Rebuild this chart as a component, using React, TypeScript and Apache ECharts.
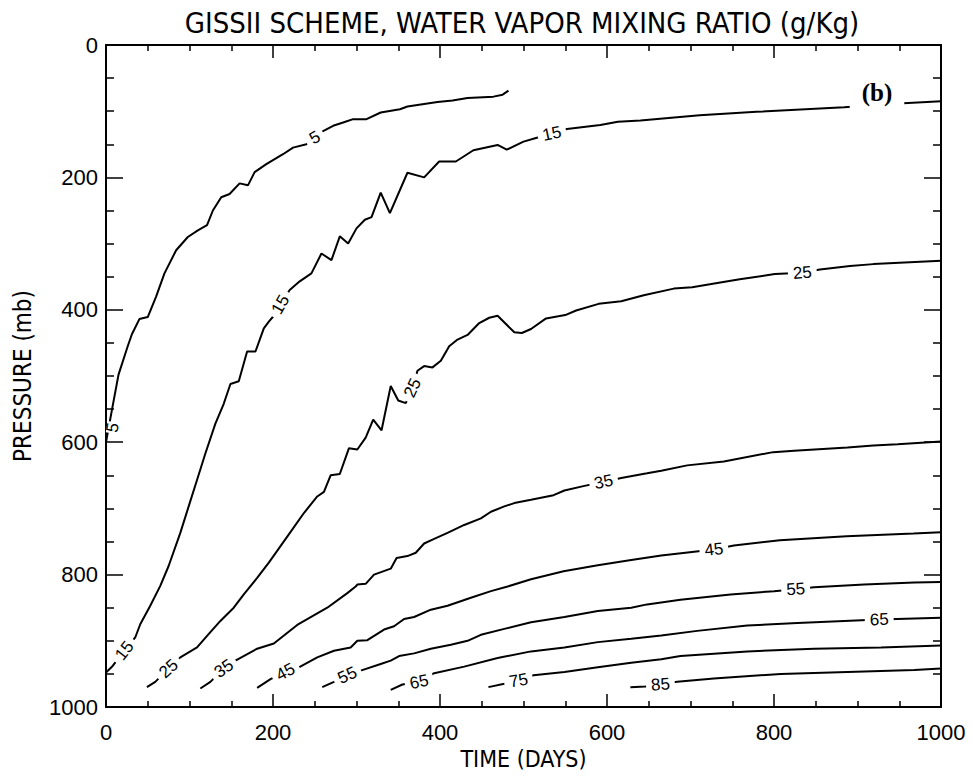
import React, { useEffect, useRef } from "react";
import * as echarts from "echarts";

// ---- Contour curves: [time (days), pressure (mb)] ----
const curve5: [number, number][] = [
  [0, 600], [7, 552], [15, 498], [26, 455], [31, 437], [40, 414], [50, 411], [60, 380],
  [70, 345], [84, 310], [98, 290], [110, 280], [121, 272], [128, 250], [138, 230], [148, 225],
  [160, 209], [170, 212], [178, 192], [192, 180], [212, 165], [224, 155], [240, 150], [250, 140],
  [260, 130], [272, 122], [284, 117], [296, 112], [312, 112], [329, 102], [352, 97], [361, 93],
  [397, 86], [415, 84], [433, 80], [464, 78], [475, 75], [482, 69],
];
const curve15: [number, number][] = [
  [0, 948], [8, 938], [22, 915], [35, 895], [41, 875], [53, 847], [65, 817], [75, 787],
  [89, 737], [99, 697], [109, 657], [119, 617], [131, 572], [141, 542], [149, 512], [159, 508],
  [169, 463], [179, 463], [189, 428], [195, 418], [201, 409], [209, 392], [220, 370], [232, 357],
  [246, 345], [258, 315], [270, 325], [280, 289], [290, 300], [300, 277], [310, 264], [318, 260],
  [329, 223], [340, 254], [361, 193], [381, 200], [399, 176], [419, 176], [440, 159], [469, 151],
  [480, 158], [500, 146], [516, 140], [534, 134], [552, 127], [592, 121], [613, 116], [640, 114],
  [711, 106], [779, 101], [884, 94], [955, 88], [1000, 85],
];
const curve25: [number, number][] = [
  [49, 970], [59, 962], [75, 942], [89, 925], [109, 910], [125, 887], [137, 870], [153, 850],
  [165, 830], [181, 805], [195, 782], [209, 757], [223, 732], [237, 707], [253, 682], [261, 675],
  [269, 650], [280, 648], [291, 609], [301, 611], [311, 593], [320, 566], [330, 582], [341, 515],
  [350, 537], [359, 541], [367, 518], [373, 492], [381, 485], [391, 487], [401, 477], [411, 455],
  [421, 445], [433, 438], [447, 420], [459, 412], [469, 409], [489, 434], [498, 435], [509, 429],
  [527, 413], [550, 408], [563, 401], [590, 391], [617, 387], [644, 378], [680, 368], [702, 366],
  [725, 361], [759, 354], [801, 346], [834, 344], [855, 339], [891, 334], [919, 331], [1000, 326],
];
const curve35: [number, number][] = [
  [113, 972], [125, 962], [141, 942], [155, 930], [181, 912], [201, 904], [229, 876], [265, 850],
  [289, 828], [299, 818], [301, 815], [311, 814], [321, 800], [341, 791], [348, 775], [361, 772],
  [371, 767], [381, 753], [393, 746], [409, 737], [429, 725], [449, 715], [461, 705], [477, 697],
  [489, 692], [509, 687], [536, 680], [549, 673], [573, 666], [596, 660], [617, 654], [648, 647],
  [665, 643], [696, 635], [740, 629], [799, 615], [824, 613], [888, 608], [919, 605], [948, 603],
  [1000, 599],
];
const curve45: [number, number][] = [
  [181, 971], [197, 958], [215, 947], [231, 940], [253, 925], [273, 915], [293, 910], [301, 900],
  [313, 899], [333, 883], [345, 878], [357, 867], [369, 864], [389, 853], [409, 847], [437, 835],
  [461, 825], [481, 818], [509, 807], [548, 795], [589, 786], [629, 778], [665, 771], [728, 762],
  [752, 756], [807, 748], [887, 742], [967, 738], [1000, 736],
];
const curve55: [number, number][] = [
  [259, 970], [273, 962], [289, 952], [305, 945], [329, 935], [341, 930], [351, 923], [369, 919],
  [389, 912], [413, 906], [433, 900], [449, 891], [477, 882], [509, 872], [549, 864], [589, 855],
  [629, 850], [648, 845], [688, 838], [748, 830], [800, 825], [826, 822], [848, 819], [908, 815],
  [968, 812], [1000, 811],
];
const curve65: [number, number][] = [
  [341, 974], [355, 966], [375, 962], [393, 949], [429, 939], [469, 926], [509, 916], [549, 910],
  [589, 902], [629, 897], [665, 892], [708, 885], [768, 877], [828, 873], [926, 868], [1000, 865],
];
const curve75: [number, number][] = [
  [458, 970], [477, 965], [494, 960], [512, 952], [549, 947], [589, 940], [629, 933], [665, 928],
  [688, 923], [768, 916], [848, 912], [928, 910], [1000, 907],
];
const curve85: [number, number][] = [
  [628, 970], [646, 969], [664, 966], [684, 962], [728, 957], [808, 950], [888, 947], [968, 944],
  [1000, 942],
];

const curves = [curve5, curve15, curve25, curve35, curve45, curve55, curve65, curve75, curve85];
const curveNames = ["5", "15", "25", "35", "45", "55", "65", "75", "85"];

// ---- Contour labels: text, day, pressure, angle (degrees, counter-clockwise) ----
const labelTexts = ["5", "5", "15", "15", "15", "25", "25", "25", "35", "35", "45", "45", "55", "55", "65", "65", "75", "85"];
const labelDays = [8, 250, 22, 209, 534, 75, 367, 834, 141, 596, 215, 728, 289, 826, 375, 926, 494, 664];
const labelPressures = [578, 140, 915, 392, 134, 942, 518, 344, 942, 660, 947, 762, 952, 822, 962, 868, 960, 966];
const labelAngles = [80, 30, 52, 60, 12, 42, 65, 5, 35, 12, 28, 7, 25, 4, 12, 2, 10, 5];

const TITLE = "GISSII SCHEME, WATER VAPOR MIXING RATIO (g/Kg)";
const NARROW = "'Liberation Sans Narrow', 'DejaVu Sans Condensed', 'Arial Narrow', 'Liberation Sans', sans-serif";
const SANS = "'Liberation Sans', Arial, Helvetica, sans-serif";

function buildOption(): any {
  const axisBase = {
    type: "value",
    min: 0,
    max: 1000,
    interval: 200,
    axisLine: { show: true, onZero: false, lineStyle: { color: "#000", width: 2 } },
    splitLine: { show: false },
  };
  const xTick = {
    axisTick: { show: true, inside: true, length: 13, lineStyle: { color: "#000", width: 1.5 } },
    minorTick: { show: true, splitNumber: 4, length: 6, lineStyle: { color: "#000", width: 1.5 } },
  };
  const yTick = {
    axisTick: { show: true, inside: true, length: 17, lineStyle: { color: "#000", width: 1.5 } },
    minorTick: { show: true, splitNumber: 4, length: 8, lineStyle: { color: "#000", width: 1.5 } },
  };
  const tickLabel = {
    show: true,
    fontFamily: SANS,
    fontSize: 22,
    color: "#000",
    formatter: (v: number) => String(v),
  };

  const lineSeries = curves.map((c, i) => ({
    type: "line",
    name: curveNames[i],
    data: c,
    showSymbol: false,
    symbol: "none",
    smooth: false,
    z: 2,
    lineStyle: { color: "#000", width: 2 },
    silent: true,
  }));

  const labelData = labelTexts.map((_, i) => [labelDays[i], labelPressures[i]]);

  return {
    animation: false,
    backgroundColor: "#fff",
    title: {
      text: TITLE,
      left: 517,
      top: 3,
      textAlign: "center",
      textStyle: { fontFamily: NARROW, fontSize: 29, fontWeight: "normal", color: "#000" },
    },
    grid: { left: 106, right: 32, top: 45, bottom: 73, containLabel: false },
    xAxis: [
      {
        ...axisBase,
        ...xTick,
        position: "bottom",
        name: "TIME (DAYS)",
        nameLocation: "middle",
        nameGap: 39,
        nameTextStyle: { fontFamily: NARROW, fontSize: 23, color: "#000" },
        axisLabel: { ...tickLabel, margin: 14 },
      },
      {
        ...axisBase,
        ...xTick,
        position: "top",
        axisLabel: { show: false },
      },
    ],
    yAxis: [
      {
        ...axisBase,
        ...yTick,
        inverse: true,
        position: "left",
        name: "PRESSURE (mb)",
        nameLocation: "middle",
        nameGap: 71,
        nameTextStyle: { fontFamily: NARROW, fontSize: 24, color: "#000" },
        axisLabel: { ...tickLabel, margin: 8 },
      },
      {
        ...axisBase,
        ...yTick,
        inverse: true,
        position: "right",
        axisLabel: { show: false },
      },
    ],
    graphic: [
      {
        type: "text",
        z: 100,
        x: 877,
        y: 92,
        style: {
          text: "(b)",
          font: "bold 25px 'Liberation Serif', 'Times New Roman', serif",
          fill: "#000",
          align: "center",
          verticalAlign: "middle",
          backgroundColor: "#fff",
          padding: [2, 12, 6, 12],
        },
      },
    ],
    series: [
      ...lineSeries,
      {
        type: "custom",
        name: "contour labels",
        data: labelData,
        z: 5,
        silent: true,
        encode: { x: 0, y: 1 },
        renderItem: (params: any, api: any) => {
          const i = params.dataIndex;
          const pt = api.coord([api.value(0), api.value(1)]);
          const first = i === 0;
          return {
            type: "text",
            x: pt[0],
            y: pt[1],
            rotation: (labelAngles[i] * Math.PI) / 180,
            style: {
              text: labelTexts[i],
              font: `17px ${SANS}`,
              fill: "#000",
              align: "center",
              verticalAlign: "middle",
              backgroundColor: "#fff",
              padding: first ? [0, 1, 0, 1] : [1, 5, 1, 5],
              lineHeight: first ? 12 : 17,
            },
          };
        },
      },
    ],
  };
}

export default function App() {
  const ref = useRef<HTMLDivElement>(null);
  useEffect(() => {
    if (!ref.current) return;
    const chart = echarts.init(ref.current, null, { renderer: "svg" });
    chart.setOption(buildOption());
    return () => chart.dispose();
  }, []);
  return (
    <div
      ref={ref}
      style={{ position: "fixed", left: 0, top: 0, width: 973, height: 780, background: "#fff" }}
    />
  );
}
